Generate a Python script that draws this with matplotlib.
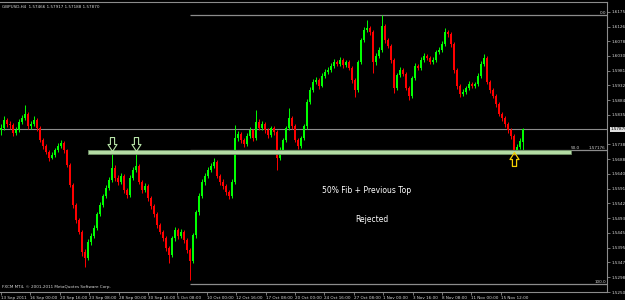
import numpy as np
import matplotlib.pyplot as plt
from matplotlib.path import Path
from matplotlib.patches import Rectangle

# GBPUSD H4 candles, prices in pips (1e-4)
close_p = [15792, 15818, 15805, 15802, 15775, 15785, 15812, 15825, 15838, 15798,
           15805, 15818, 15792, 15752, 15733, 15713, 15693, 15703, 15719, 15733,
           15743, 15719, 15670, 15604, 15537, 15488, 15448, 15382, 15362, 15415,
           15435, 15461, 15507, 15537, 15567, 15594, 15620, 15660, 15627, 15614,
           15633, 15587, 15570, 15627, 15653, 15666, 15614, 15587, 15600, 15561,
           15534, 15507, 15471, 15448, 15428, 15395, 15372, 15428, 15455, 15435,
           15448, 15422, 15389, 15352, 15438, 15514, 15567, 15614, 15633, 15653,
           15666, 15680, 15633, 15614, 15600, 15580, 15567, 15614, 15759, 15772,
           15752, 15739, 15766, 15785, 15759, 15812, 15792, 15805, 15785, 15769,
           15792, 15779, 15693, 15719, 15752, 15792, 15825, 15798, 15752, 15733,
           15759, 15798, 15878, 15917, 15944, 15950, 15931, 15964, 15977, 15983,
           15997, 16010, 16003, 16016, 15999, 16010, 15990, 15950, 15917, 16010,
           16082, 16116, 16122, 16109, 16010, 16029, 16049, 16129, 16082, 16063,
           16016, 15924, 15967, 15983, 15970, 15924, 15898, 15957, 15997, 15990,
           16016, 16029, 16023, 16010, 16016, 16043, 16049, 16069, 16109, 16102,
           16069, 15983, 15931, 15904, 15911, 15924, 15937, 15931, 15937, 15964,
           16003, 16023, 15944, 15917, 15898, 15871, 15838, 15825, 15805, 15785,
           15766, 15719, 15729, 15747, 15787]
high_p = [15805, 15830, 15826, 15815, 15808, 15795, 15820, 15834, 15868, 15845,
          15815, 15830, 15824, 15798, 15760, 15740, 15720, 15712, 15726, 15742,
          15752, 15748, 15724, 15676, 15610, 15545, 15496, 15455, 15392, 15424,
          15446, 15470, 15515, 15548, 15575, 15604, 15630, 15713, 15668, 15635,
          15642, 15640, 15595, 15635, 15662, 15716, 15672, 15620, 15610, 15606,
          15568, 15540, 15514, 15478, 15455, 15434, 15402, 15436, 15465, 15462,
          15458, 15454, 15430, 15396, 15446, 15522, 15576, 15624, 15642, 15662,
          15675, 15693, 15686, 15640, 15622, 15608, 15588, 15622, 15802, 15782,
          15778, 15760, 15775, 15795, 15790, 15851, 15820, 15815, 15812, 15792,
          15800, 15798, 15785, 15728, 15760, 15800, 15858, 15832, 15804, 15760,
          15766, 15806, 15886, 15926, 15952, 15960, 15956, 15972, 15986, 15992,
          16005, 16020, 16016, 16026, 16022, 16018, 16016, 15996, 15956, 16018,
          16090, 16126, 16149, 16130, 16115, 16038, 16058, 16165, 16136, 16090,
          16070, 16022, 15975, 15992, 15990, 15976, 15930, 15965, 16005, 16004,
          16025, 16038, 16036, 16030, 16025, 16050, 16058, 16078, 16122, 16116,
          16108, 16075, 15990, 15938, 15920, 15932, 15946, 15944, 15945, 15972,
          16012, 16036, 16028, 15950, 15924, 15905, 15878, 15846, 15832, 15812,
          15792, 15772, 15738, 15760, 15792]
low_p = [15770, 15785, 15796, 15790, 15765, 15768, 15780, 15805, 15818, 15790,
         15788, 15800, 15782, 15745, 15722, 15705, 15684, 15688, 15697, 15714,
         15726, 15710, 15662, 15596, 15528, 15478, 15440, 15370, 15333, 15355,
         15405, 15428, 15455, 15500, 15530, 15560, 15588, 15612, 15618, 15604,
         15606, 15578, 15560, 15565, 15620, 15645, 15606, 15578, 15580, 15552,
         15525, 15498, 15462, 15440, 15418, 15386, 15346, 15365, 15420, 15426,
         15428, 15412, 15378, 15290, 15345, 15430, 15505, 15560, 15605, 15626,
         15645, 15660, 15625, 15605, 15590, 15570, 15556, 15560, 15608, 15750,
         15742, 15728, 15732, 15760, 15750, 15752, 15784, 15786, 15776, 15760,
         15762, 15770, 15653, 15685, 15712, 15745, 15786, 15790, 15744, 15724,
         15726, 15752, 15790, 15870, 15910, 15936, 15922, 15926, 15958, 15970,
         15976, 15990, 15995, 15997, 15990, 15992, 15982, 15942, 15894, 15910,
         16002, 16075, 16108, 16100, 15974, 16000, 16022, 16042, 16074, 16055,
         16008, 15908, 15918, 15960, 15962, 15916, 15884, 15892, 15950, 15982,
         15984, 16010, 16015, 16002, 16004, 16010, 16036, 16042, 16062, 16094,
         16060, 15975, 15922, 15895, 15896, 15904, 15918, 15924, 15924, 15930,
         15958, 15996, 15936, 15908, 15890, 15862, 15830, 15816, 15796, 15776,
         15756, 15703, 15712, 15722, 15719]
first_open = 15785

date_labels = ["13 Sep 2011", "16 Sep 00:00", "20 Sep 16:00", "23 Sep 08:00", "28 Sep 00:00",
               "30 Sep 16:00", "5 Oct 08:00", "10 Oct 00:00", "12 Oct 16:00", "17 Oct 08:00",
               "20 Oct 00:00", "24 Oct 16:00", "27 Oct 08:00", "1 Nov 00:00", "3 Nov 16:00",
               "8 Nov 08:00", "11 Nov 00:00", "15 Nov 12:00"]
price_ticks = [1.61750, 1.61265, 1.60780, 1.60300, 1.59810, 1.59325, 1.58840, 1.58355,
               1.57385, 1.56880, 1.56400, 1.55910, 1.55425, 1.54930, 1.54450, 1.53955,
               1.53475, 1.52980, 1.52500]

fib_0 = 1.6165
fib_100 = 1.5276
fib_start = 63          # bar of the swing low
zone = (1.5706, 1.5720)  # "previous top" band
zone_bars = (29, 190)
top_bars = [37, 45]      # the two previous tops
reject_bar = 171
last_price = 1.57870

close = np.array(close_p) / 1e4
high = np.array(high_p) / 1e4
low = np.array(low_p) / 1e4
opn = np.r_[first_open / 1e4, close[:-1]]
idx = np.arange(len(close))
up = close >= opn

GRAY = '#8c8c8c'
TXT = '#d8d8d8'
SMALL = 3.0
plt.rcParams['font.family'] = ['DejaVu Sans']

fig = plt.figure(figsize=(6.25, 3.0), dpi=100, facecolor='black')
ax = fig.add_axes([0, 8 / 300, 607 / 625, 290 / 300], facecolor='black')

# candles
cols = np.where(up, '#00ff00', '#ff0000')
ax.vlines(idx, low, high, colors=cols, lw=0.7, zorder=3)
ax.bar(idx, np.abs(close - opn) + 0.00003, bottom=np.minimum(opn, close),
       width=0.55, color=cols, lw=0, zorder=3)

ax.set_xlim(-0.33, 202)
ax.set_ylim(1.5250, 1.6208)

# current price line
ax.axhline(last_price, color=GRAY, lw=0.8, zorder=1)

# fibonacci retracement
fib_50 = (fib_0 + fib_100) / 2
for lv in (fib_0, fib_50, fib_100):
    ax.hlines(lv, fib_start, 202, color=GRAY, lw=0.9, zorder=1)
tr = ax.get_yaxis_transform()
ax.text(0.998, fib_0, "0.0", transform=tr, color=TXT, fontsize=SMALL, ha='right', va='bottom')
ax.text(0.998, fib_100, "100.0", transform=tr, color=TXT, fontsize=SMALL, ha='right', va='bottom')
ax.text(0.955, fib_50, "50.0", transform=tr, color=TXT, fontsize=SMALL, ha='right', va='bottom')
ax.text(0.998, fib_50, "%.5f" % 1.57176, transform=tr, color=TXT, fontsize=SMALL, ha='right', va='bottom')

# previous top zone
ax.add_patch(Rectangle((zone_bars[0], zone[0]), zone_bars[1] - zone_bars[0], zone[1] - zone[0],
                       facecolor='#b4dca4', edgecolor='#6f8f66', lw=0.6, zorder=4))

# hollow arrows
arrow = Path([(-0.3, 1), (0.3, 1), (0.3, 0), (0.65, 0), (0, -1), (-0.65, 0), (-0.3, 0), (-0.3, 1)],
             [Path.MOVETO] + [Path.LINETO] * 6 + [Path.CLOSEPOLY])
for b in top_bars:
    ax.plot(b, zone[1] + 0.0018, marker=arrow, ms=10, mfc='none', mec='#b8e4a8', mew=0.8, zorder=5)
up_arrow = Path(arrow.vertices * [1, -1], arrow.codes)
ax.plot(reject_bar, zone[0] - 0.0018, marker=up_arrow, ms=10, mfc='none', mec='#f5d000', mew=0.9, zorder=5)

ax.text(122, 1.5584, "50% Fib + Previous Top", color='white', fontsize=5.5, ha='center', va='center')
ax.text(123.5, 1.5491, "Rejected", color='white', fontsize=5.5, ha='center', va='center')

ax.text(0.003, 0.99, "GBPUSD,H4  1.57466 1.57917 1.57188 1.57870", transform=ax.transAxes,
        color=TXT, fontsize=SMALL, va='top')
ax.text(0.003, 0.012, "FXCM MT4, \u00a9 2001-2011 MetaQuotes Software Corp.", transform=ax.transAxes,
        color=TXT, fontsize=SMALL, va='bottom')

# axes like the terminal
ax.spines['left'].set_visible(False)
for s in ('top', 'right', 'bottom'):
    ax.spines[s].set_color(GRAY)
    ax.spines[s].set_linewidth(0.8)

ax.set_xticks(np.arange(len(date_labels)) * 9.8)
ax.set_xticklabels(date_labels, ha='left')
ax.yaxis.tick_right()
ax.set_yticks(price_ticks)
ax.set_yticklabels(["%.5f" % p for p in price_ticks])
ax.tick_params(axis='both', colors=GRAY, labelcolor=TXT, labelsize=SMALL, length=2, width=0.6, pad=1)

ax.annotate("%.5f" % last_price, xy=(1.0, last_price), xycoords=tr, xytext=(2.5, 0),
            textcoords='offset points', fontsize=SMALL, color='black', va='center', ha='left',
            bbox=dict(boxstyle='square,pad=0.15', fc='#e0e0e0', ec='none'))

fig.savefig('out.png', dpi=100, facecolor='black')
